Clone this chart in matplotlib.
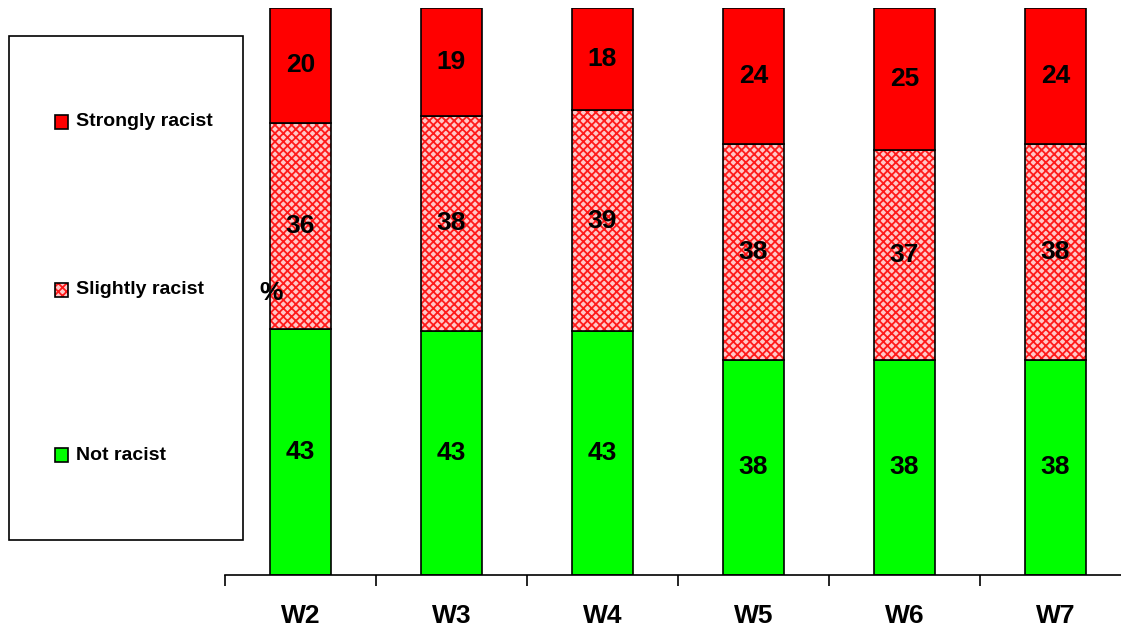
import matplotlib.pyplot as plt
import numpy as np
from matplotlib.patches import Rectangle

plt.rcParams['font.family'] = ['Liberation Sans', 'DejaVu Sans']
plt.rcParams['hatch.linewidth'] = 1.3

# Antworten je Welle (Prozent)
wellen = ["W2", "W3", "W4", "W5", "W6", "W7"]
nicht = [43, 43, 43, 38, 38, 38]
leicht = [36, 38, 39, 38, 37, 38]
stark = [20, 19, 18, 24, 25, 24]

kategorien = ["Not racist", "Slightly racist", "Strongly racist"]
farben = ["#00ff00", "white", "#ff0000"]

werte = np.array([nicht, leicht, stark], dtype=float)
summe = werte.sum(axis=0)
anteil = werte / summe * 100

fig = plt.figure(figsize=(11.21, 6.32), dpi=100)
ax = fig.add_axes([225 / 1121, 57 / 632, 906 / 1121, 567 / 632])

x = np.arange(len(wellen))
breite = 0.404
unten = np.zeros(len(wellen))
for i in range(3):
    if i == 1:
        # Schraffur in Rot, Rahmen extra
        ax.bar(x, anteil[i], breite, bottom=unten, color="#ffc8c8",
               edgecolor="#ff1a1a", hatch="xxxx", linewidth=0)
        ax.bar(x, anteil[i], breite, bottom=unten, fill=False,
               edgecolor="black", linewidth=1.2)
    else:
        ax.bar(x, anteil[i], breite, bottom=unten, color=farben[i],
               edgecolor="black", linewidth=1.2)
    for j in range(len(wellen)):
        ax.text(x[j], unten[j] + anteil[i][j] / 2, "%d" % werte[i][j],
                ha="center", va="center", fontsize=19, fontweight="bold")
    unten = unten + anteil[i]

ax.set_xlim(-0.5, 5.5)
ax.set_ylim(0, 100)
ax.set_yticks([])
for s in ["top", "right", "left"]:
    ax.spines[s].set_visible(False)
ax.spines["bottom"].set_linewidth(1.2)
ax.set_xticks(np.arange(-0.5, 6, 1))
ax.set_xticklabels([])
ax.tick_params(axis="x", length=8, width=1.2, direction="out")
for j, w in enumerate(wellen):
    ax.text(x[j], -7.2, w, ha="center", va="center", fontsize=19, fontweight="bold")

fig.text(271 / 1121, 1 - 293 / 632, "%", ha="center", va="center",
         fontsize=19, fontweight="bold")

# Legende als Kasten
fig.patches.append(Rectangle((9 / 1121, 1 - 540 / 632), 234 / 1121, 504 / 632,
                             transform=fig.transFigure, fill=False,
                             edgecolor="black", linewidth=1.2))
ypos = [455, 290, 122]
for i in range(3):
    y = 1 - ypos[i] / 632
    if i == 1:
        fig.patches.append(Rectangle((55 / 1121, y - 7 / 632), 13 / 1121, 14 / 632,
                                     transform=fig.transFigure, facecolor="#ffc8c8",
                                     edgecolor="#ff1a1a", hatch="xxxx", linewidth=0))
        fig.patches.append(Rectangle((55 / 1121, y - 7 / 632), 13 / 1121, 14 / 632,
                                     transform=fig.transFigure, fill=False,
                                     edgecolor="black", linewidth=1.2))
    else:
        fig.patches.append(Rectangle((55 / 1121, y - 7 / 632), 13 / 1121, 14 / 632,
                                     transform=fig.transFigure, facecolor=farben[i],
                                     edgecolor="black", linewidth=1.2))
    fig.text(76 / 1121, y, kategorien[i], ha="left", va="center",
             fontsize=14, fontweight="bold")

fig.savefig("out.png", dpi=100)
